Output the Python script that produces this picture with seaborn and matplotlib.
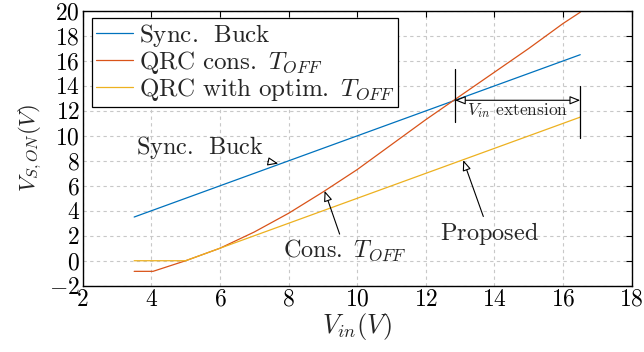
import numpy as np
import pandas as pd
import matplotlib
matplotlib.use("Agg")
import matplotlib.pyplot as plt
import seaborn as sns
from matplotlib.ticker import FuncFormatter
from matplotlib.lines import Line2D

# Input voltage sweep and switch on-state voltage for the three converters
vin_buck = [3.5, 16.5]
vson_buck = [3.5, 16.5]

vin_cons = [3.5, 4.05, 5.0, 6.0, 7.0, 8.0, 9.0, 10.0, 11.0, 12.0, 13.0, 14.0, 15.0, 16.0, 16.5]
vson_cons = [-0.85, -0.85, 0.0, 1.0, 2.3, 3.8, 5.5, 7.3, 9.3, 11.3, 13.2, 15.1, 17.0, 19.0, 19.9]

vin_opt = [3.5, 5.0, 16.5]
vson_opt = [0.0, 0.0, 11.5]

series_names = ["Sync. Buck", "QRC cons. T_OFF", "QRC with optim. T_OFF"]
series_labels = [r"$\mathrm{Sync.\ \,Buck}$",
                 r"$\mathrm{QRC\ cons.\ }T_{OFF}$",
                 r"$\mathrm{QRC\ with\ optim.\ }T_{OFF}$"]
series_colors = ["#0072BD", "#D95319", "#EDB120"]

x_ticks = [2, 4, 6, 8, 10, 12, 14, 16, 18]
y_ticks = [-2, 0, 2, 4, 6, 8, 10, 12, 14, 16, 18, 20]

# Crossover of buck and constant-T_OFF curves and the maximum input voltage
v_cross = 12.85
v_max = 16.5

df = pd.concat([
    pd.DataFrame({"Vin": vin_buck, "Vson": vson_buck, "series": series_names[0]}),
    pd.DataFrame({"Vin": vin_cons, "Vson": vson_cons, "series": series_names[1]}),
    pd.DataFrame({"Vin": vin_opt, "Vson": vson_opt, "series": series_names[2]}),
], ignore_index=True)

sns.set_theme(style="white")
plt.rcParams["font.family"] = ["cmr10", "DejaVu Serif"]
plt.rcParams["mathtext.fontset"] = "cm"
plt.rcParams["axes.formatter.use_mathtext"] = True
plt.rcParams["axes.unicode_minus"] = False

fig = plt.figure(figsize=(6.44, 3.52), dpi=100)
ax = fig.add_axes([82.7 / 644, 1 - 285.7 / 352, (631.7 - 82.7) / 644, (285.7 - 11) / 352])

sns.lineplot(data=df, x="Vin", y="Vson", hue="series", hue_order=series_names,
             palette=dict(zip(series_names, series_colors)), linewidth=0.9,
             estimator=None, sort=False, ax=ax, legend=False)

ax.set_xlim(2, 18)
ax.set_ylim(-2, 20)
ax.set_xticks(x_ticks)
ax.set_yticks(y_ticks)
fmt = FuncFormatter(lambda v, p: f"${v:g}$")
ax.xaxis.set_major_formatter(fmt)
ax.yaxis.set_major_formatter(fmt)
ax.tick_params(direction="in", length=4, width=0.8, top=True, right=True,
               labelsize=17, pad=2, colors="black")
ax.grid(True, linestyle=(0, (3, 3)), color="#c8c8c8", linewidth=0.8)
for s in ax.spines.values():
    s.set_color("black")
    s.set_linewidth(1.0)

ax.set_xlabel(r"$V_{in}(V)$", fontsize=19, labelpad=0)
ax.set_ylabel(r"$V_{S,ON}(V)$", fontsize=16.5, labelpad=4)

# Legend
handles = [Line2D([], [], color=c, linewidth=0.9) for c in series_colors]
leg = ax.legend(handles, series_labels, loc="upper left", bbox_to_anchor=(0.017, 0.973),
                borderaxespad=0, fontsize=18, frameon=True, fancybox=False,
                handlelength=1.5, handletextpad=0.22, labelspacing=0.0,
                borderpad=0.15, edgecolor="black", framealpha=1)
leg.get_frame().set_linewidth(0.9)

arrow = dict(arrowstyle="-|>,head_length=0.45,head_width=0.18", fc="white", ec="black",
             linewidth=0.8, shrinkA=0, shrinkB=0, mutation_scale=14)

ax.annotate(r"$\mathrm{Sync.\ \,Buck}$", xy=(7.7, 7.78), xytext=(7.3, 9.1),
            ha="right", va="center", fontsize=17.5, arrowprops=arrow)
ax.annotate(r"$\mathrm{Cons.\ }T_{OFF}$", xy=(9.05, 5.6), xytext=(9.65, 0.85),
            ha="center", va="center", fontsize=17.5, arrowprops=arrow)
ax.annotate(r"$\mathrm{Proposed}$", xy=(13.09, 8.06), xytext=(13.85, 2.2),
            ha="center", va="center", fontsize=17.5, arrowprops=arrow)

# Input range extension marker
ax.plot([v_cross, v_cross], [11.1, 15.35], color="black", linewidth=0.9)
ax.plot([v_max, v_max], [9.8, 14.0], color="black", linewidth=0.9)
ax.annotate("", xy=(v_max, v_cross), xytext=(v_cross, v_cross),
            arrowprops=dict(arrowstyle="<|-|>,head_length=0.45,head_width=0.18", fc="white",
                            ec="black", linewidth=0.8, shrinkA=0, shrinkB=0,
                            mutation_scale=14))
ax.text((v_cross + v_max) / 2, 12.0, r"$V_{in}$ extension", ha="center", va="center",
        fontsize=12.5)

fig.savefig("out.png", dpi=100)
